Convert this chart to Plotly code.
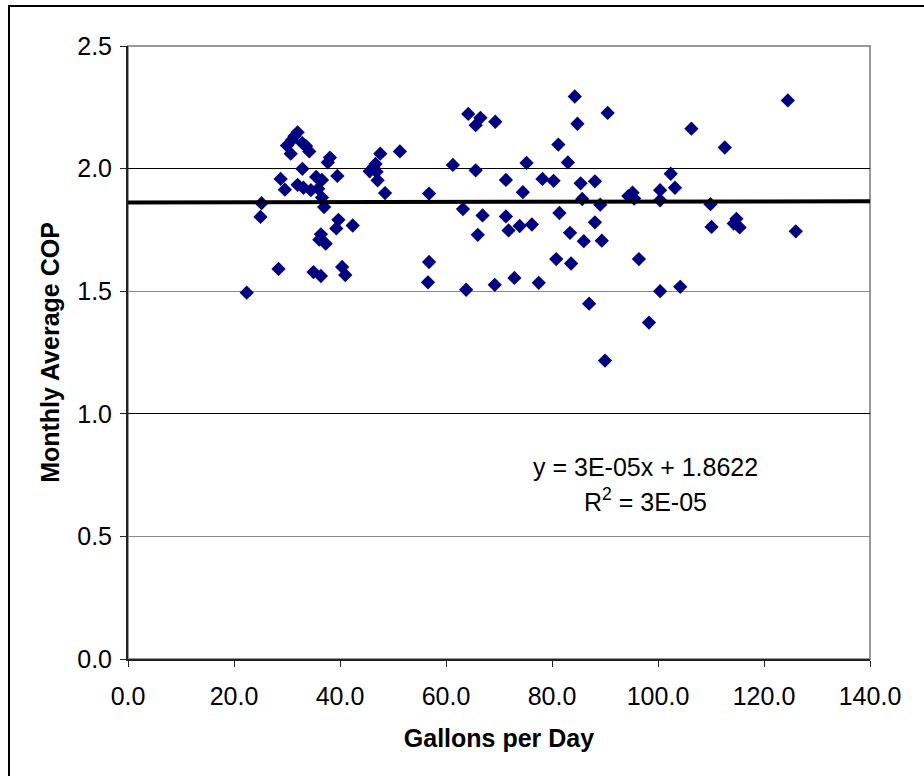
import plotly.graph_objects as go

gallons_per_day = [
    22.4, 25.0, 25.2, 28.4, 28.8, 29.6, 30.0, 30.7, 30.9, 31.4, 32.0, 32.0, 32.9, 32.9,
    33.1, 33.6, 34.2, 34.5, 35.0, 35.5, 35.9, 36.1, 36.4, 36.4, 36.6, 36.6, 37.0, 37.3,
    37.7, 38.1, 39.3, 39.7, 39.5, 40.4, 41.0, 42.4, 45.6, 46.3, 46.7, 46.9, 47.1, 47.6,
    48.5, 51.3, 56.6, 56.8, 56.8, 61.3, 63.2, 63.8, 64.2, 65.6, 65.6, 66.0, 66.5, 66.9,
    69.2, 69.3, 71.3, 71.3, 71.8, 72.9, 73.9, 74.5, 75.2, 76.2, 77.5, 78.2, 80.3, 80.8,
    81.2, 81.4, 83.0, 83.4, 83.6, 84.3, 84.8, 85.4, 85.7, 86.0, 87.0, 88.1, 88.1, 89.1,
    89.4, 90.0, 90.5, 94.4, 95.2, 95.5, 96.4, 98.3, 100.4, 100.4, 100.4, 102.4, 103.2,
    104.2, 106.3, 109.9, 110.1, 112.6, 114.3, 114.8, 115.4, 124.5, 126.0,
]
monthly_cop = [
    1.494, 1.803, 1.859, 1.591, 1.958, 1.914, 2.094, 2.061, 2.116, 2.132, 2.148, 1.934, 2.104, 1.999,
    1.922, 2.092, 2.070, 1.912, 1.578, 1.966, 1.918, 1.710, 1.562, 1.732, 1.954, 1.882, 1.843, 1.694,
    2.025, 2.045, 1.756, 1.791, 1.970, 1.599, 1.566, 1.768, 1.989, 2.005, 2.019, 1.987, 1.952, 2.061,
    1.900, 2.070, 1.536, 1.619, 1.898, 2.015, 1.835, 1.506, 2.223, 2.177, 1.993, 1.730, 2.207, 1.809,
    1.526, 2.191, 1.954, 1.805, 1.748, 1.554, 1.766, 1.904, 2.023, 1.772, 1.534, 1.958, 1.950, 1.631,
    2.098, 1.819, 2.025, 1.738, 1.613, 2.294, 2.183, 1.940, 1.876, 1.704, 1.449, 1.948, 1.781, 1.853,
    1.706, 1.217, 2.227, 1.888, 1.902, 1.878, 1.631, 1.372, 1.500, 1.912, 1.871, 1.979, 1.922,
    1.518, 2.163, 1.855, 1.762, 2.086, 1.776, 1.795, 1.760, 2.278, 1.744,
]

# Trendline as reported on the chart
trend_slope = 3e-05
trend_intercept = 1.8622
trend_x = [0.0, 140.0]
trend_y = [trend_slope * x + trend_intercept for x in trend_x]

x_ticks = [0, 20, 40, 60, 80, 100, 120, 140]
y_ticks = [0.0, 0.5, 1.0, 1.5, 2.0, 2.5]
eq_text = "y = 3E-05x + 1.8622"
r2_text = "R<sup>2</sup> = 3E-05"

FONT = "Arial, Liberation Sans, sans-serif"
FS = 25

fig = go.Figure()
fig.add_trace(go.Scatter(
    x=trend_x, y=trend_y, mode="lines", yaxis="y2",
    line=dict(color="black", width=4), hoverinfo="skip", showlegend=False,
))
fig.add_trace(go.Scatter(
    x=gallons_per_day, y=monthly_cop, mode="markers",
    marker=dict(symbol="diamond", size=11, color="#000080", line=dict(width=0)),
    showlegend=False,
))

fig.add_annotation(x=97.6, y=0.783, text=eq_text, showarrow=False,
                   font=dict(family=FONT, size=FS, color="black"))
fig.add_annotation(x=97.6, y=0.647, text=r2_text, showarrow=False,
                   font=dict(family=FONT, size=FS, color="black"))

# plot area border (grey) and outer chart border
fig.add_shape(type="rect", xref="paper", yref="paper", x0=0, y0=0, x1=1, y1=1,
              line=dict(color="#999999", width=2), layer="below")
fig.add_shape(type="rect", xref="paper", yref="paper",
              x0=(9 - 128) / 742, x1=(940 - 128) / 742,
              y0=(659 - 800) / 613, y1=(659 - 6) / 613,
              line=dict(color="black", width=2), layer="below")

fig.update_layout(
    width=924, height=776,
    margin=dict(l=128, r=54, t=46, b=117),
    paper_bgcolor="white", plot_bgcolor="white",
    font=dict(family=FONT, size=FS, color="black"),
    xaxis=dict(
        range=[0, 140], tickvals=x_ticks, tickformat=".1f",
        showgrid=False, zeroline=False,
        showline=True, linecolor="#222222", linewidth=2,
        ticks="outside", ticklen=6, tickcolor="#222222", tickwidth=1,
        ticklabelstandoff=8,
        tickfont=dict(size=FS),
        title=dict(text="<b>Gallons per Day</b>", font=dict(size=FS), standoff=20),
    ),
    yaxis=dict(
        range=[0, 2.5], tickvals=y_ticks, tickformat=".1f",
        showgrid=True, gridcolor="#8a8a8a", gridwidth=1, zeroline=False,
        showline=True, linecolor="#222222", linewidth=2,
        ticks="outside", ticklen=6, tickcolor="#222222", tickwidth=1,
        ticklabelstandoff=3,
        tickfont=dict(size=FS),
        title=dict(text="<b>Monthly Average COP</b>", font=dict(size=FS), standoff=10),
    ),
    yaxis2=dict(
        range=[0, 2.5], overlaying="y", tickvals=[1.0, 2.0], showticklabels=False,
        showgrid=True, gridcolor="black", gridwidth=1, zeroline=False,
        showline=False, ticks="",
    ),
)

fig.write_html("out.html")
